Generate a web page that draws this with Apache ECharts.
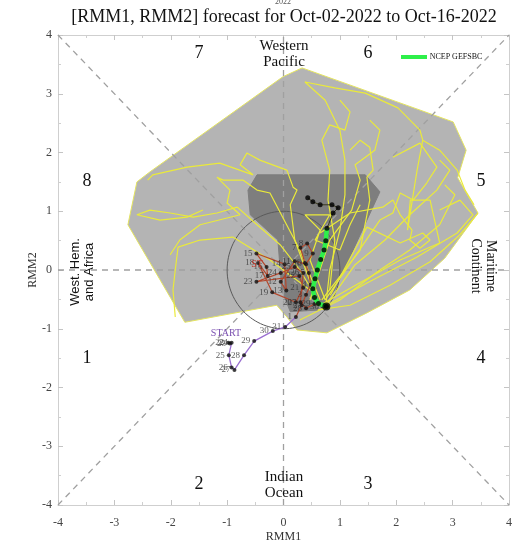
<!DOCTYPE html>
<html><head><meta charset="utf-8">
<script src="https://cdn.jsdelivr.net/npm/echarts@6/dist/echarts.min.js"></script>
<style>html,body{margin:0;padding:0;background:#fff}#c{width:523px;height:543px}</style>
</head><body><div id="c"></div>
<script>
// ---------- data ----------
const axisTicks = [-4,-3,-2,-1,0,1,2,3,4];
// 90% ensemble range (light grey)
const range90 = [[0.33,3.44],[3.01,2.52],[3.24,2.04],[3.09,1.57],[3.45,0.97],[2.86,0.20],[2.24,-0.34],[1.48,-0.73],[0.77,-1.07],[0.24,-1.02],[0.06,-0.80],[-0.12,-0.60],[-1.75,-0.89],[-2.76,0.77],[-2.60,1.50],[-2.37,1.67],[-0.01,3.29]];
// 50% ensemble range (dark grey)
const range50 = [[-0.47,1.62],[1.45,1.62],[1.71,1.33],[1.36,0.60],[0.91,-0.34],[0.65,-0.68],[0.12,-0.71],[-0.03,-0.34],[-0.10,0.51],[-0.59,0.94],[-0.63,1.36]];
// ensemble members (yellow)
const memberA = [[0.75,-0.61],[0.82,0],[1.0,0.68],[1.09,1.28],[1.09,1.87],[1.0,2.38],[0.74,2.89],[0.38,3.2],[0.91,3.1],[1.45,3.01],[2.03,2.76],[2.42,2.38],[2.47,2.21],[2.77,2.04],[3.08,1.70],[3.22,1.36],[3.38,1.11]];
const memberB = [[0.75,-0.61],[1.48,-0.22],[2.37,0.22],[3.08,0.63],[3.36,0.94],[3.13,1.19],[2.77,1.02]];
const memberC = [[0.65,-0.6],[2.07,0.17],[2.77,0.46],[2.6,1.19],[2.25,1.19],[2.2,0.68],[2.37,1.70],[2.47,2.21]];
const memberD = [[0.83,-0.43],[1.48,0.73],[2.07,0.46],[2.47,0.63],[2.6,0.51],[2.42,0.37],[2.24,0.51],[2.28,0.68],[2.07,0.94],[1.94,1.19],[1.76,1.07],[1.18,0.97],[0.65,0.63]];
const memberE = [[0.74,-0.51],[1.71,0.85],[1.94,0.97],[2.07,1.31],[2.3,1.19],[2.54,1.48],[2.72,1.75],[2.42,2.16],[1.94,1.92]];
const memberF = [[0.68,-0.51],[1.36,0.34],[1.53,1.19],[1.48,1.58],[1.59,1.70],[1.53,2.09],[1.36,2.21],[1.18,2.04]];
const memberG = [[0.61,-0.51],[0.29,0],[-0.06,0.43],[-0.47,0.77],[-0.82,1.07],[-1.18,0.97],[-1.6,0.9],[-2.01,0.97],[-2.37,1.02],[-2.6,0.94],[-2.19,0.85],[-1.71,0.90],[-1.43,1.02]];
const memberH = [[0.56,-0.43],[0.2,0.51],[0.12,1.11],[0.24,1.36],[0.17,1.41],[0.06,1.70],[-0.42,1.87],[-0.65,1.99],[-0.77,1.79],[-0.54,1.62],[-1.13,1.82],[-1.71,1.75],[-2.32,1.62],[-2.41,1.53]];
const memberI = [[0.47,-0.34],[-0.24,0.17],[-0.9,0.56],[-1.48,0.51],[-1.87,0.39],[-1.92,0],[-1.96,-0.34],[-1.92,-0.80]];
const memberJ = [[0.65,-0.51],[0.29,0.34],[-0.24,1.31],[-0.47,1.36],[-0.72,1.53],[-1.07,1.53],[-1.18,1.58],[-0.95,1.36],[-1.0,1.14],[-0.77,0.94],[-1.48,0.77],[-1.84,0.51],[-2.01,0.26]];
const memberK = [[0.74,-0.51],[0.47,0.17],[0.65,0.68],[0.38,0.94],[0.82,0.94],[0.56,0.51],[1.0,0.34],[1.18,0.77],[1.36,1.11]];
const memberL = [[0.61,-0.68],[1.18,-0.6],[1.89,-0.26],[2.6,0.14],[3.13,0.6],[3.45,0.97]];
const memberM = [[0.29,-0.85],[1.0,-0.51],[1.71,0],[2.24,0.34],[2.77,0.77],[3.04,1.28],[2.86,1.45]];
const memberN = [[0.47,-0.51],[0.82,0.51],[1.21,1.02],[1.36,1.53],[1.27,1.79],[1.62,2.04],[1.71,2.38],[1.53,2.55]];
const memberO = [[0.75,-0.61],[1.27,0.09],[1.8,0.51],[2.24,0.94],[2.72,1.36],[2.95,1.70],[2.77,1.87]];
const memberP = [[0.82,-0.34],[0.91,0.51],[0.79,1.19],[0.82,1.70],[0.68,2.21],[0.82,2.47],[1.09,2.38],[1.18,2.69],[1.0,2.89]];
// observed: late August (purple)
const augDays = ['22','23','24','25','26','27','28','29','30','31'];
const augRMM = [[-0.98,-1.24],[-0.95,-1.25],[-0.92,-1.24],[-0.97,-1.45],[-0.92,-1.66],[-0.87,-1.70],[-0.70,-1.45],[-0.52,-1.21],[-0.19,-1.04],[0.03,-0.97]];
// observed: September (red)
const sepDays = ['1','2','3','4','5','6','7','8','9','10','11','12','13','14','15','16','17','18','19','20','21','22','23','24','25','26','27','28','29','30'];
const sepRMM = [[0.22,-0.80],[0.32,-0.60],[0.40,-0.42],[0.48,-0.25],[0.45,-0.05],[0.38,0.12],[0.30,0.38],[0.42,0.45],[0.52,0.28],[0.40,0.10],[0.20,0.15],[-0.05,-0.20],[0.05,-0.35],[0.02,0.10],[-0.48,0.28],[-0.30,0.05],[-0.28,-0.10],[-0.45,0.12],[-0.20,-0.38],[0.22,-0.55],[0.35,-0.30],[0.28,-0.10],[-0.48,-0.20],[-0.05,-0.05],[0.20,0.05],[0.35,-0.05],[0.30,-0.55],[0.40,-0.65],[0.55,-0.58],[0.70,-0.62]];
// NCEP GEFSBC ensemble-mean forecast, Oct-02 .. Oct-16
const fcstRMM = [[0.76,-0.62],[0.62,-0.57],[0.55,-0.47],[0.52,-0.32],[0.56,-0.15],[0.60,0.0],[0.66,0.18],[0.72,0.34],[0.75,0.50],[0.77,0.71],[0.88,0.97],[0.97,1.06],[0.86,1.11],[0.65,1.11],[0.52,1.16],[0.43,1.23]];
const fcstGreenCount = 10;

// ---------- chart ----------
const ensemble = [memberA,memberB,memberC,memberD,memberE,memberF,memberG,memberH,memberI,memberJ,memberK,memberL,memberM,memberN,memberO,memberP];
const chart = echarts.init(document.getElementById('c'), null, {renderer:'canvas'});
const serif = '"Liberation Serif","Times New Roman",serif';

function polySeries(pts, fill, stroke, z){
  return {type:'custom', coordinateSystem:'cartesian2d', z:z, silent:true, data:[[0,0]],
    renderItem:(params, api)=>({type:'polygon', shape:{points: pts.map(p=>api.coord(p))},
      style:{fill:fill, stroke:stroke, lineWidth:1}})};
}
const circleSeries = {type:'custom', coordinateSystem:'cartesian2d', z:4, silent:true, data:[[0,0]],
  renderItem:(params, api)=>{
    const pts=[]; for(let i=0;i<=120;i++){const a=i/120*2*Math.PI; pts.push(api.coord([Math.cos(a),Math.sin(a)]));}
    return {type:'polyline', shape:{points:pts}, style:{stroke:'#5a5a5a', lineWidth:1, fill:null}};
  }};
function refLine(a,b){
  return {type:'line', data:[a,b], symbol:'none', z:3, silent:true,
    lineStyle:{color:'#a0a0a0', width:1.3, type:[6,5]}};
}
const series = [
  polySeries(range90, '#b4b4b4', '#e4e460', 1),
  polySeries(range50, '#7e7e7e', '#7e7e7e', 2),
  refLine([-4,-4],[4,4]), refLine([-4,4],[4,-4]), refLine([-4,0],[4,0]), refLine([0,-4],[0,4]),
  circleSeries
];
ensemble.forEach(m=>series.push({type:'line', data:m, symbol:'none', z:5, silent:true,
  lineStyle:{color:'#eaea3a', width:1.2}}));
// observed tracks
series.push({type:'line', data:augRMM.concat([sepRMM[0]]), symbol:'none', z:6,
  lineStyle:{color:'#9a6fd0', width:1.3}});
series.push({type:'line', data:sepRMM, symbol:'none', z:6, lineStyle:{color:'#b3472c', width:1.2}});
series.push({type:'scatter', data:augRMM.map((p,i)=>[p[0],p[1],augDays[i]]), symbolSize:4, z:7,
  itemStyle:{color:'#111'}, label:{show:true, position:'left', distance:2, formatter:p=>p.data[2],
  fontFamily:serif, fontSize:9, color:'#333'}});
series.push({type:'scatter', data:sepRMM.map((p,i)=>[p[0],p[1],sepDays[i]]), symbolSize:4, z:7,
  itemStyle:{color:'#111'}, label:{show:true, position:'left', distance:2, formatter:p=>p.data[2],
  fontFamily:serif, fontSize:9, color:'#333'}});
// forecast
series.push({type:'line', data:fcstRMM.slice(0,fcstGreenCount), symbol:'none', z:8,
  lineStyle:{color:'#2ef04a', width:4.5}});
series.push({type:'line', data:fcstRMM.slice(fcstGreenCount-1), symbol:'none', z:8,
  lineStyle:{color:'#3a3a20', width:1}});
series.push({type:'scatter', data:fcstRMM, symbolSize:5, z:9, itemStyle:{color:'#000'}});
series.push({type:'scatter', data:[fcstRMM[0]], symbolSize:8, z:9, itemStyle:{color:'#000'}});

function xAx(pos, showLabel){
  return {type:'value', min:-4, max:4, interval:1, position:pos,
    axisLine:{show:true, onZero:false, lineStyle:{color:'#cfcfcf', width:1}},
    axisTick:{show:true, inside:true, length:5, lineStyle:{color:'#c4c4c4'}},
    minorTick:{show:true, splitNumber:2, length:3, lineStyle:{color:'#cfcfcf'}},
    splitLine:{show:false},
    axisLabel:{show:showLabel, fontFamily:serif, fontSize:12, color:'#444', margin:12,
      formatter:v=>axisTicks.includes(v)?String(v):''},
    name: showLabel?'RMM1':'', nameLocation:'middle', nameGap:26, nameMoveOverlap:false,
    nameTextStyle:{fontFamily:serif, fontSize:12, color:'#333'}};
}
function yAx(pos, showLabel){
  return {type:'value', min:-4, max:4, interval:1, position:pos,
    axisLine:{show:true, onZero:false, lineStyle:{color:'#cfcfcf', width:1}},
    axisTick:{show:true, inside:true, length:5, lineStyle:{color:'#c4c4c4'}},
    minorTick:{show:true, splitNumber:2, length:3, lineStyle:{color:'#cfcfcf'}},
    splitLine:{show:false},
    axisLabel:{show:showLabel, fontFamily:serif, fontSize:12, color:'#444', margin:6,
      formatter:v=>axisTicks.includes(v)?String(v):''},
    name: showLabel?'RMM2':'', nameLocation:'middle', nameGap:19, nameMoveOverlap:false,
    nameTextStyle:{fontFamily:serif, fontSize:12, color:'#333'}};
}
function txt(t, x, y, size, opts){
  opts = opts||{};
  return {type:'text', x:x, y:y, rotation:opts.rot||0, z:20, silent:true,
    style:{text:t, font:(opts.weight||'normal')+' '+size+'px '+(opts.family||serif),
      fill:opts.color||'#111', textAlign:'center', textVerticalAlign:'middle'}};
}
const graphics = [
  txt('2022', 283, 2, 8, {color:'#555'}),
  txt('[RMM1, RMM2] forecast for Oct-02-2022 to Oct-16-2022', 284, 17, 18),
  txt('7', 199, 53, 18), txt('6', 368, 53, 18), txt('8', 87, 181, 18), txt('5', 481, 181, 18),
  txt('1', 87, 358, 18), txt('4', 481, 358, 18), txt('2', 199, 484, 18), txt('3', 368, 484, 18),
  txt('Western', 284, 46, 15), txt('Pacific', 284, 62, 15),
  txt('Indian', 284, 477, 15), txt('Ocean', 284, 493, 15),
  txt('Maritime', 491, 266, 14, {rot:-Math.PI/2}), txt('Continent', 476, 266, 14, {rot:-Math.PI/2}),
  txt('West. Hem.', 75, 272, 13, {rot:Math.PI/2, family:'"Liberation Sans",Arial,sans-serif'}),
  txt('and Africa', 89, 272, 13, {rot:Math.PI/2, family:'"Liberation Sans",Arial,sans-serif'}),
  txt('START', 226, 333, 10, {color:'#7a4fb0'}),
  txt('ST', 257, 264, 10, {color:'#c0392b'}),
  {type:'line', z:20, shape:{x1:401, y1:57, x2:427, y2:57}, style:{stroke:'#2ef04a', lineWidth:4}},
  txt('NCEP GEFSBC', 456, 57, 8)
];

chart.setOption({
  animation:false,
  grid:{left:58, right:14, top:35, bottom:38, containLabel:false, outerBoundsMode:'none'},
  xAxis:[xAx('bottom', true), xAx('top', false)],
  yAxis:[yAx('left', true), yAx('right', false)],
  series: series,
  graphic: graphics
});
</script></body></html>
